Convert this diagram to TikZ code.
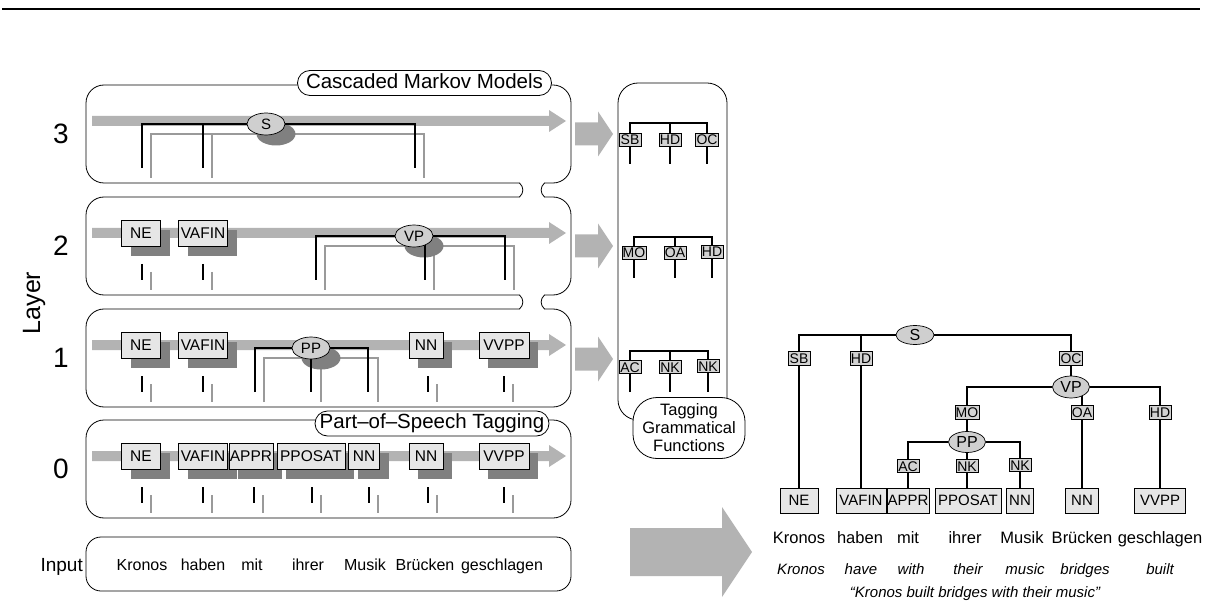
\documentclass[tikz,border=0pt]{standalone}
\usepackage{fontspec}
\setmainfont{Liberation Sans}
\usetikzlibrary{shapes.geometric}
\definecolor{bandc}{HTML}{B3B3B3}
\definecolor{shadc}{HTML}{808080}
\definecolor{gryc}{HTML}{9A9A9A}
\definecolor{tagc}{HTML}{E6E6E6}
\definecolor{ellc}{HTML}{CFCFCF}
\definecolor{lblc}{HTML}{D2D2D2}
\pgfdeclarelayer{bandL}
\pgfdeclarelayer{grayL}
\pgfdeclarelayer{shadL}
\pgfdeclarelayer{lineL}
\pgfsetlayers{bandL,grayL,shadL,lineL,main}
% band arrow inside a layer box, #1 = y of its axis
\newcommand\Band[1]{\fill[bandc] (92,#1-5) -- (549,#1-5) -- (549,#1-11) -- (566,#1) -- (549,#1+11) -- (549,#1+5) -- (92,#1+5) -- cycle;}
% big arrow between left panel and middle column
\newcommand\BigA[1]{\fill[bandc] (575,#1-11.5) -- (598,#1-11.5) -- (598,#1-22.5) -- (613,#1) -- (598,#1+22.5) -- (598,#1+11.5) -- (575,#1+11.5) -- cycle;}
% tag with shadow: name, x, y, width, text
\newcommand\Tg[5]{%
  \begin{pgfonlayer}{shadL}\fill[shadc] (#2-#4/2+9,#3-3) rectangle (#2+#4/2+9,#3+23);\end{pgfonlayer}
  \node[tagbox,minimum width=#4pt] (#1) at (#2,#3) {#5};}
% category ellipse with shadow: name, x, y, text
\newcommand\Ct[4]{%
  \begin{pgfonlayer}{shadL}\fill[shadc] (#2+10,#3+10) ellipse [x radius=19.5pt, y radius=11.5pt];\end{pgfonlayer}
  \node[cat] (#1) at (#2,#3) {#4};}
\begin{document}
\begin{tikzpicture}[x=1pt,y=-1pt,
 lbox/.style={draw,line width=0.8pt,rounded corners=18pt,inner sep=0pt},
 tagbox/.style={draw,fill=tagc,line width=0.7pt,minimum height=26pt,inner sep=0pt,font=\fontsize{15.5}{17}\selectfont,text height=11.1pt,text depth=0pt},
 cat/.style={ellipse,draw,fill=ellc,line width=0.7pt,minimum width=38pt,minimum height=22pt,inner sep=0pt,font=\fontsize{15}{17}\selectfont,text height=10.7pt,text depth=0pt},
 fn/.style={draw,fill=lblc,line width=0.6pt,minimum height=13.5pt,minimum width=22pt,inner xsep=0.8pt,inner ysep=0pt,font=\fontsize{14}{15}\selectfont,text height=10pt,text depth=0pt},
 rtag/.style={draw,fill=tagc,line width=0.7pt,minimum height=25pt,inner sep=0pt,font=\fontsize{15}{17}\selectfont,text height=10.7pt,text depth=0pt},
 rcat/.style={ellipse,draw,fill=ellc,line width=0.7pt,minimum width=38pt,minimum height=21pt,inner sep=0pt,font=\fontsize{16}{18}\selectfont,text height=11.5pt,text depth=0pt},
 pill/.style={draw,fill=white,line width=0.8pt,inner sep=0pt,rounded corners=12.5pt,minimum height=25pt,font=\fontsize{20.5}{23}\selectfont,text height=14.7pt,text depth=4pt},
 blk/.style={line width=1.5pt},
 gry/.style={draw=gryc,line width=1.5pt},
 dig/.style={font=\fontsize{28}{30}\selectfont,inner sep=0pt},
 word/.style={font=\fontsize{16}{19}\selectfont,inner sep=0pt,anchor=base},
 rword/.style={font=\fontsize{16.5}{19}\selectfont,inner sep=0pt,anchor=base},
 iword/.style={font=\fontsize{15}{18}\selectfont\itshape,inner sep=0pt,anchor=base},
]
\useasboundingbox (0,0) rectangle (1207,612);
% top rule
\coordinate (ruleL) at (2,9);
\coordinate (ruleR) at (1200,9);
\draw[line width=2.5pt] (ruleL) -- (ruleR);

% ---------- left panel: layer boxes ----------
\node[lbox,minimum width=485pt,minimum height=98pt] (box3) at (328.5,134) {};
\node[lbox,minimum width=485pt,minimum height=98pt] (box2) at (328.5,246) {};
\node[lbox,minimum width=485pt,minimum height=98pt] (box1) at (328.5,358) {};
\node[lbox,minimum width=485pt,minimum height=98pt] (box0) at (328.5,469) {};
\node[lbox,rounded corners=15pt,minimum width=485pt,minimum height=54pt] (boxin) at (328.5,564) {};
% necks joining boxes 3-2 and 2-1
\fill[white] (519.8,181) rectangle (544.2,199);
\draw[line width=0.8pt] (519.5,183) .. controls (524,187) and (524,193) .. (519.5,197);
\draw[line width=0.8pt] (544.5,183) .. controls (540,187) and (540,193) .. (544.5,197);
\fill[white] (519.8,293) rectangle (544.2,311);
\draw[line width=0.8pt] (519.5,295) .. controls (524,299) and (524,305) .. (519.5,309);
\draw[line width=0.8pt] (544.5,295) .. controls (540,299) and (540,305) .. (544.5,309);
% pills
\node[pill,minimum width=254pt] (cmm) at (424.5,83) {Cascaded Markov Models};
\node[pill,minimum width=234pt] (pos) at (432,423.5) {Part--of--Speech Tagging};
% labels
\node[font=\fontsize{25}{28}\selectfont,rotate=90,inner sep=0pt] (lay) at (34,303) {Layer};
\node[dig] (n3) at (61,134) {3};
\node[dig] (n2) at (61,246) {2};
\node[dig] (n1) at (61,358) {1};
\node[dig] (n0) at (61,469) {0};
\node[font=\fontsize{19}{22}\selectfont,inner sep=0pt,anchor=base east] (inp) at (83,571) {Input};
% input words
\node[word] (w1) at (142,570) {Kronos};
\node[word] (w2) at (203,570) {haben};
\node[word] (w3) at (252,570) {mit};
\node[word] (w4) at (308,570) {ihrer};
\node[word] (w5) at (365,570) {Musik};
\node[word] (w6) at (425,570) {Brücken};
\node[word] (w7) at (502,570) {geschlagen};

% bands
\begin{pgfonlayer}{bandL}
\Band{121}\Band{233}\Band{345}\Band{456}
\end{pgfonlayer}

% ---------- layer 3 ----------
\Ct{S3}{266}{124}{S}
\begin{pgfonlayer}{lineL}
\draw[blk] (142,168) |- (S3) -| (415,168);
\draw[blk] (203,124) -- (203,168);
\end{pgfonlayer}
\begin{pgfonlayer}{grayL}
\draw[gry] (151,178) |- (424,134) -- (424,178);
\draw[gry] (212,134) -- (212,178);
\end{pgfonlayer}

% ---------- layer 2 ----------
\Tg{ne2}{141}{233}{39}{NE}
\Tg{vf2}{203}{233}{49}{VAFIN}
\Ct{VP2}{414}{236}{VP}
\begin{pgfonlayer}{lineL}
\draw[blk] (316,280) |- (VP2) -| (505,280);
\draw[blk] (425,236) -- (425,280);
\foreach \x in {142,203} \draw[blk] (\x,264) -- (\x,280);
\end{pgfonlayer}
\begin{pgfonlayer}{grayL}
\draw[gry] (325,290) |- (514,246) -- (514,290);
\draw[gry] (434,246) -- (434,290);
\foreach \x in {151,212} \draw[gry] (\x,272) -- (\x,290);
\end{pgfonlayer}

% ---------- layer 1 ----------
\Tg{ne1}{141}{345}{39}{NE}
\Tg{vf1}{203}{345}{49}{VAFIN}
\Ct{PP1}{311}{348}{PP}
\Tg{nn1}{426}{345}{34}{NN}
\Tg{vv1}{504}{345}{50}{VVPP}
\begin{pgfonlayer}{lineL}
\draw[blk] (255,392) |- (PP1) -| (368,392);
\draw[blk] (PP1) -- (311,392);
\foreach \x in {142,203,428,504} \draw[blk] (\x,376) -- (\x,392);
\end{pgfonlayer}
\begin{pgfonlayer}{grayL}
\draw[gry] (264,402) |- (378,358) -- (378,402);
\draw[gry] (321,358) -- (321,402);
\foreach \x in {151,212,437,513} \draw[gry] (\x,384) -- (\x,402);
\end{pgfonlayer}

% ---------- layer 0 ----------
\Tg{ne0}{141}{456}{39}{NE}
\Tg{vf0}{203}{456}{49}{VAFIN}
\Tg{ap0}{251}{456}{44}{APPR}
\Tg{pp0}{311}{456}{68}{PPOSAT}
\Tg{nna0}{364}{456}{31}{NN}
\Tg{nnb0}{426}{456}{34}{NN}
\Tg{vv0}{504}{456}{50}{VVPP}
\begin{pgfonlayer}{lineL}
\foreach \x in {142,203,254,312,369,428,504} \draw[blk] (\x,487) -- (\x,503);
\end{pgfonlayer}
\begin{pgfonlayer}{grayL}
\foreach \x in {151,212,263,321,378,437,513} \draw[gry] (\x,495) -- (\x,513);
\end{pgfonlayer}

% ---------- big arrows ----------
\BigA{134}\BigA{246}\BigA{359}
\fill[bandc] (630,528) -- (722,528) -- (722,507) -- (752,552) -- (722,597) -- (722,576) -- (630,576) -- cycle;

% ---------- middle column ----------
\node[draw,line width=0.8pt,rounded corners=20pt,minimum width=109pt,minimum height=337pt,inner sep=0pt] (mbox) at (672.5,251.5) {};
\node[draw,fill=white,line width=0.8pt,rounded corners=24pt,minimum width=112pt,minimum height=61pt,inner sep=0pt,align=center,font=\fontsize{16.5}{18}\selectfont] (tgf) at (689,428) {Tagging\\Grammatical\\Functions};
% group 1
\coordinate (g1t) at (670,123);
\begin{pgfonlayer}{lineL}
\draw[blk] (630,164) |- (g1t) -| (707,164);
\draw[blk] (g1t) -- (670,164);
\end{pgfonlayer}
\node[fn] (g1a) at (630,140) {SB};
\node[fn] (g1b) at (670,140) {HD};
\node[fn] (g1c) at (707,140) {OC};
% group 2
\coordinate (g2t) at (675,237);
\begin{pgfonlayer}{lineL}
\draw[blk] (634,278) |- (g2t) -| (712,278);
\draw[blk] (g2t) -- (675,278);
\end{pgfonlayer}
\node[fn] (g2a) at (634,253) {MO};
\node[fn] (g2b) at (675,253) {OA};
\node[fn] (g2c) at (712,252) {HD};
% group 3
\coordinate (g3t) at (670,351);
\begin{pgfonlayer}{lineL}
\draw[blk] (630,392) |- (g3t) -| (708,392);
\draw[blk] (g3t) -- (670,392);
\end{pgfonlayer}
\node[fn] (g3a) at (630,367) {AC};
\node[fn] (g3b) at (670,367) {NK};
\node[fn] (g3c) at (708,366) {NK};

% ---------- right tree ----------
\node[rtag,minimum width=38pt] (rNE) at (799,500.5) {NE};
\node[rtag,minimum width=50pt] (rVF) at (861,500.5) {VAFIN};
\node[rtag,minimum width=42pt] (rAP) at (908,500.5) {APPR};
\node[rtag,minimum width=66pt] (rPO) at (968,500.5) {PPOSAT};
\node[rtag,minimum width=27pt] (rN1) at (1020,500.5) {NN};
\node[rtag,minimum width=33pt] (rN2) at (1082,500.5) {NN};
\node[rtag,minimum width=51pt] (rVV) at (1160,500.5) {VVPP};
\node[rcat,minimum height=19pt] (rS) at (915,335) {S};
\node[rcat,minimum width=37pt,minimum height=22pt] (rVP) at (1071,387) {VP};
\node[rcat,minimum width=37pt] (rPP) at (967,442) {PP};
\begin{pgfonlayer}{lineL}
\draw[blk] (rNE.north) |- (rS);
\draw[blk] (rVF.north) |- (rS);
\draw[blk] (rS) -| (rVP.north);
\draw[blk] (rPP.north) |- (rVP);
\draw[blk] (rVP) -| (rVV.north);
\draw[blk] (rVP -| rN2) -- (rN2.north);
\draw[blk] (rAP.north) |- (rPP);
\draw[blk] (rPP) -| (rN1.north);
\draw[blk] (rPP) -- (rPP |- rPO.north);
\end{pgfonlayer}
\node[fn] (lSB) at (799,358.5) {SB};
\node[fn] (lHD) at (861,358.5) {HD};
\node[fn] (lOC) at (1071,358.5) {OC};
\node[fn] (lMO) at (967,412.5) {MO};
\node[fn] (lOA) at (1082,412.5) {OA};
\node[fn] (lHD2) at (1160,412.5) {HD};
\node[fn] (lAC) at (908,466) {AC};
\node[fn] (lNK1) at (967,466) {NK};
\node[fn] (lNK2) at (1020,465) {NK};
% words
\node[rword] (r1) at (799,543) {Kronos};
\node[rword] (r2) at (860,543) {haben};
\node[rword] (r3) at (908,543) {mit};
\node[rword] (r4) at (965,543) {ihrer};
\node[rword] (r5) at (1022,543) {Musik};
\node[rword] (r6) at (1082,543) {Brücken};
\node[rword] (r7) at (1160,543) {geschlagen};
\node[iword] (i1) at (801,574) {Kronos};
\node[iword] (i2) at (861,574) {have};
\node[iword] (i3) at (911,574) {with};
\node[iword] (i4) at (968,574) {their};
\node[iword] (i5) at (1025,574) {music};
\node[iword] (i6) at (1085,574) {bridges};
\node[iword] (i7) at (1160,574) {built};
\node[iword] (qt) at (975,597) {``Kronos built bridges with their music''};
\end{tikzpicture}
\end{document}
